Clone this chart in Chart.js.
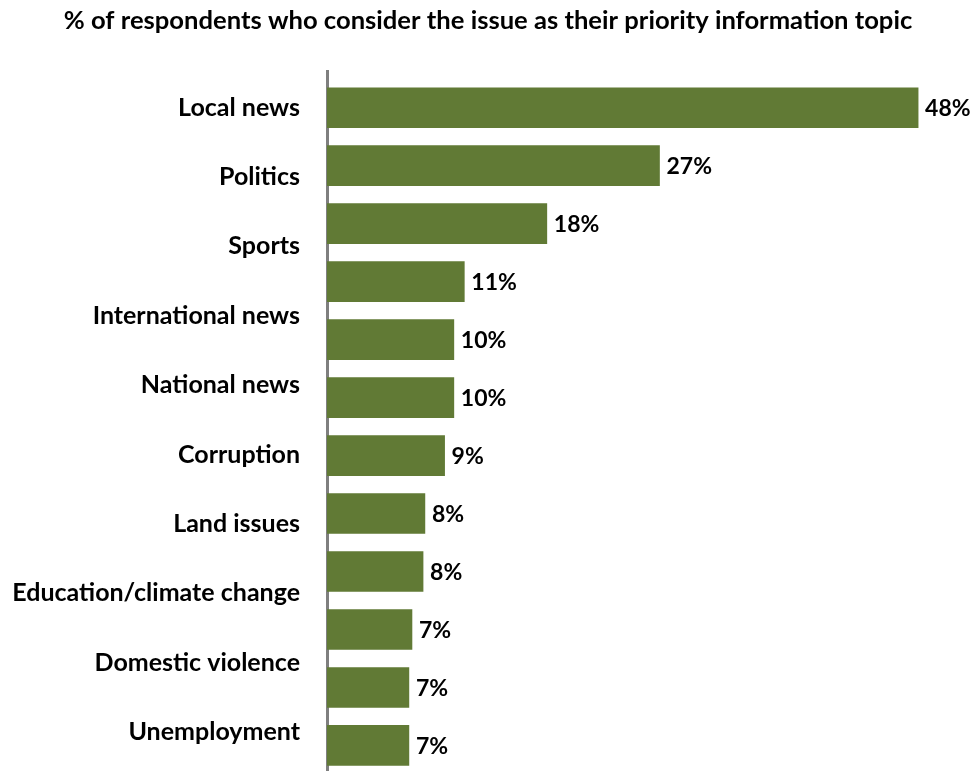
<!DOCTYPE html>
<html>
<head>
<meta charset="utf-8">
<script src="https://cdn.jsdelivr.net/npm/chart.js@4"></script>
<style>
  html, body { margin: 0; padding: 0; background: #fff; overflow: hidden; }
  canvas { display: block; }
</style>
</head>
<body>
<canvas id="grafico" width="976" height="771"></canvas>
<script>
const titulo = "% of respondents who consider the issue as their priority information topic";

// etiquetas del eje (son 10, las barras son 12 como en el original)
const temas = [
  "Local news", "Politics", "Sports", "International news", "National news",
  "Corruption", "Land issues", "Education/climate change", "Domestic violence", "Unemployment"
];

// largo de cada barra
const valores = [48, 27.0, 17.85, 11.15, 10.3, 10.3, 9.55, 7.95, 7.8, 6.9, 6.65, 6.65];
// texto que se muestra al lado de cada barra
const rotulos = ["48%", "27%", "18%", "11%", "10%", "10%", "9%", "8%", "8%", "7%", "7%", "7%"];

const verde = "#617a35";
const fuente = "Lato, 'Open Sans', sans-serif";

const puntos = valores.map((v, i) => ({ x: v, y: i }));

/* dibuja el % al final de cada barra */
const rotulosPlugin = {
  id: "rotulos",
  afterDatasetsDraw(chart) {
    const ctx = chart.ctx;
    const meta = chart.getDatasetMeta(0);
    ctx.save();
    ctx.font = "bold 23px " + fuente;
    ctx.fillStyle = "#000";
    ctx.textAlign = "left";
    ctx.textBaseline = "middle";
    meta.data.forEach((barra, i) => {
      ctx.fillText(rotulos[i], barra.x + 7, barra.y + 1);
    });
    ctx.restore();
  },
};

const canvas = document.getElementById("grafico");
const grafico = new Chart(canvas, {
  type: "bar",
  data: {
    datasets: [
      {
        data: puntos,
        backgroundColor: verde,
        borderWidth: 0,
        barThickness: 40,
        xAxisID: "x",
        yAxisID: "y",
      },
    ],
  },
  options: {
    indexAxis: "y",
    responsive: false,
    animation: false,
    layout: { padding: 0 },
    plugins: {
      legend: { display: false },
      tooltip: { enabled: false },
      title: {
        display: true,
        text: titulo,
        color: "#000",
        font: { family: fuente, size: 25.6, weight: "bold", lineHeight: 1.2 },
        padding: { top: 5, bottom: 36 },
      },
    },
    scales: {
      x: {
        type: "linear",
        min: 0,
        max: 52.7,
        display: false,
      },
      y: {
        type: "linear",
        axis: "y",
        reverse: true,
        offset: false,
        bounds: "data",
        min: -0.621,
        max: 11.441,
        display: false,
      },
      yl: {
        type: "linear",
        axis: "y",
        position: "left",
        reverse: true,
        offset: false,
        bounds: "data",
        min: -0.519,
        max: 9.563,
        afterBuildTicks: (s) => {
          s.ticks = temas.map((t, i) => ({ value: i }));
        },
        afterFit: (s) => {
          s.width = 327;
          // que el padding de los textos no achique el area
          s.paddingTop = 0;
          s.paddingBottom = 0;
        },
        grid: { display: false, drawTicks: false },
        border: { display: true, color: "#7f7f7f", width: 3 },
        ticks: {
          autoSkip: false,
          padding: 27,
          color: "#000",
          font: { family: fuente, size: 25, weight: "bold" },
          callback: (v) => temas[v],
        },
      },
    },
  },
  plugins: [rotulosPlugin],
});
</script>
</body>
</html>
